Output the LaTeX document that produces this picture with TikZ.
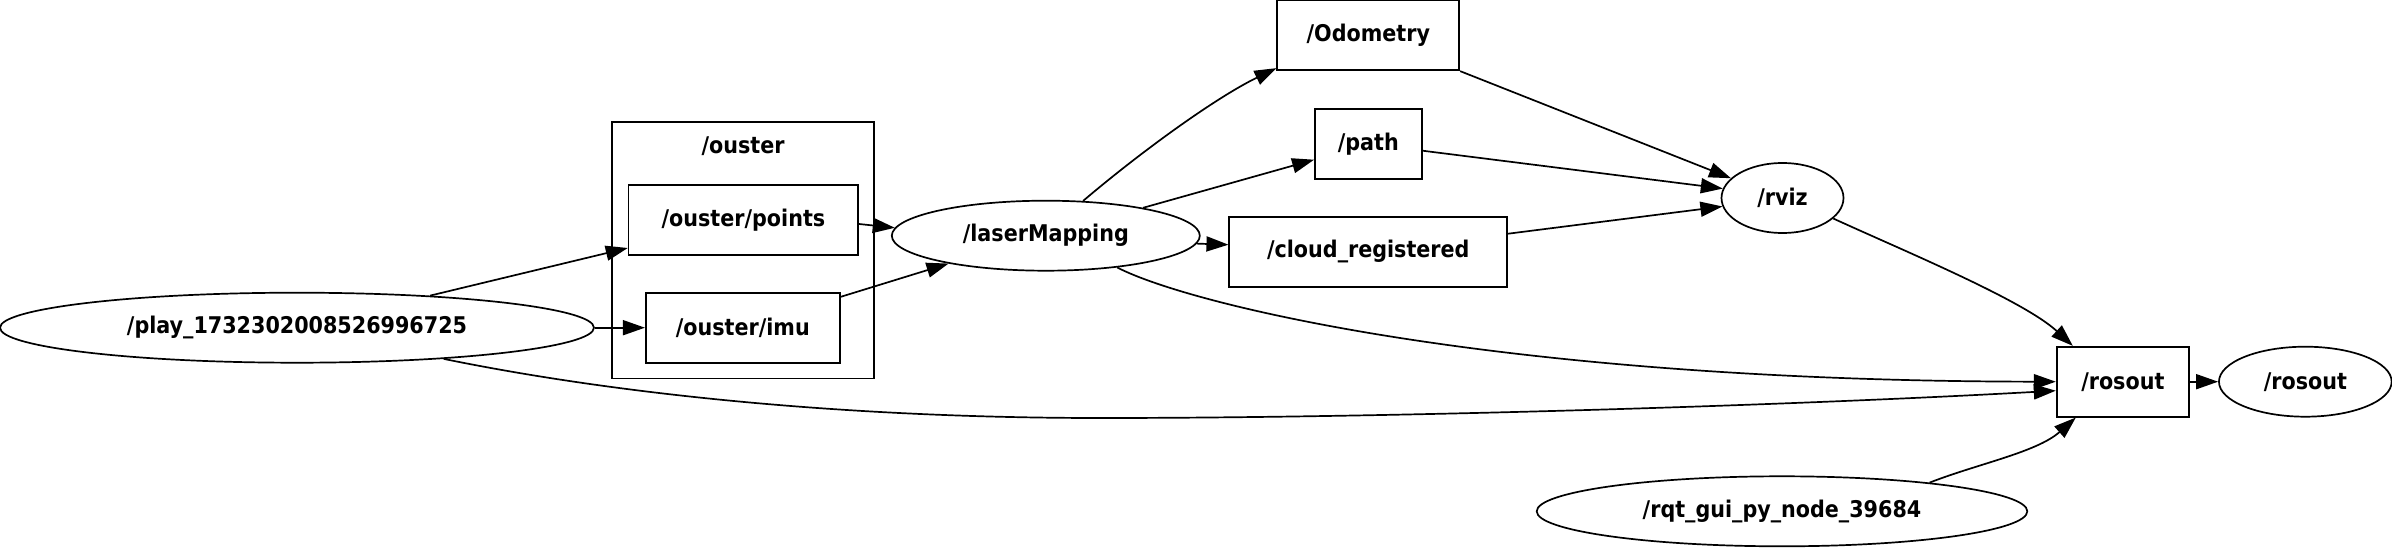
\documentclass[tikz,border=0pt]{standalone}
\usepackage{fontspec}
\newfontfamily\gvfont{DejaVu Sans Condensed}
\usetikzlibrary{arrows.meta,shapes.geometric}

\begin{document}
\begin{tikzpicture}[x=1pt,y=-1pt,line width=1.7pt,
	every node/.style={font={\gvfont\bfseries\fontsize{23}{27}\selectfont},inner sep=0pt},
	topic/.style={draw,rectangle,minimum height=70pt},
	rosnode/.style={draw,ellipse,minimum height=70pt},
	edge/.style={-{Triangle[length=22pt,width=15pt]}}]
			%%%%% START %%%%%
			\useasboundingbox (0,0) rectangle (2392,548);
			
			\node[draw,minimum width=262.6pt,minimum height=256.3pt] (ouster) at (743,250.2) {};
			\node (ousterlabel) at (743,146) {/ouster};
			
			\node[rosnode,minimum width=594pt] (play) at (297,327.7) {/play\_1732302008526996725};
			\node[topic,minimum width=229.6pt] (points) at (743.4,220) {/ouster/points};
			\node[topic,minimum width=194pt] (imu) at (742.8,327.7) {/ouster/imu};
			\node[rosnode,minimum width=308pt] (lm) at (1045.8,235.7) {/laserMapping};
			
			\node[topic,minimum width=182pt] (odo) at (1368.3,35.3) {/Odometry};
			\node[topic,minimum width=106.7pt] (path) at (1368.3,143.7) {/path};
			\node[topic,minimum width=278pt] (cloud) at (1368.3,251.7) {/cloud\_registered};
			
			\node[rosnode,minimum width=122pt] (rviz) at (1782.5,198) {/rviz};
			\node[topic,minimum width=132.3pt] (rosout) at (2122.8,381.7) {/rosout};
			\node[rosnode,minimum width=172.7pt] (rostopic) at (2305.3,381.7) {/rosout};
			\node[rosnode,minimum width=490.6pt] (rqt) at (1782,511.3) {/rqt\_gui\_py\_node\_39684};
			
			\draw[edge] (play) -- ([yshift=-28pt]points.west);
			\draw[edge] (play) -- (imu);
			\draw[edge] (play.-12) .. controls (620,395) and (850,418) .. (1100,418)
				.. controls (1400,418) and (1800,405) .. ([yshift=-9pt]rosout.west);
			
			\draw[edge] ([yshift=-4pt]points.east) -- (lm.177);
			\draw[edge] ([yshift=-5pt]imu.north east) -- (lm.196);
			
			\draw[edge] (lm.43) .. controls (1143,150) and (1217,97) .. ([yshift=3pt]odo.south west);
			\draw[edge] (lm.16) -- ([yshift=-16pt]path.west);
			\draw[edge] (lm.-3) -- ([yshift=7pt]cloud.west);
			\draw[edge] (lm.-24) .. controls (1190,305) and (1500,381) .. (rosout.west);
			
			\draw[edge] (odo.south east) -- (rviz.159);
			\draw[edge] ([yshift=-7pt]path.east) -- (rviz.171);
			\draw[edge] ([yshift=18pt]cloud.east) -- (rviz.188);
			
			\draw[edge] (rviz.-22) .. controls (1903,250.5) and (2023,300) .. ([xshift=17pt]rosout.north west);
			\draw[edge] (rosout) -- (rostopic);
			\draw[edge] (rqt.11) .. controls (1978,463.7) and (2036.7,452.3) .. ([xshift=20pt]rosout.south west);
			
			%%%%% END %%%%%
\end{tikzpicture}
\end{document}
